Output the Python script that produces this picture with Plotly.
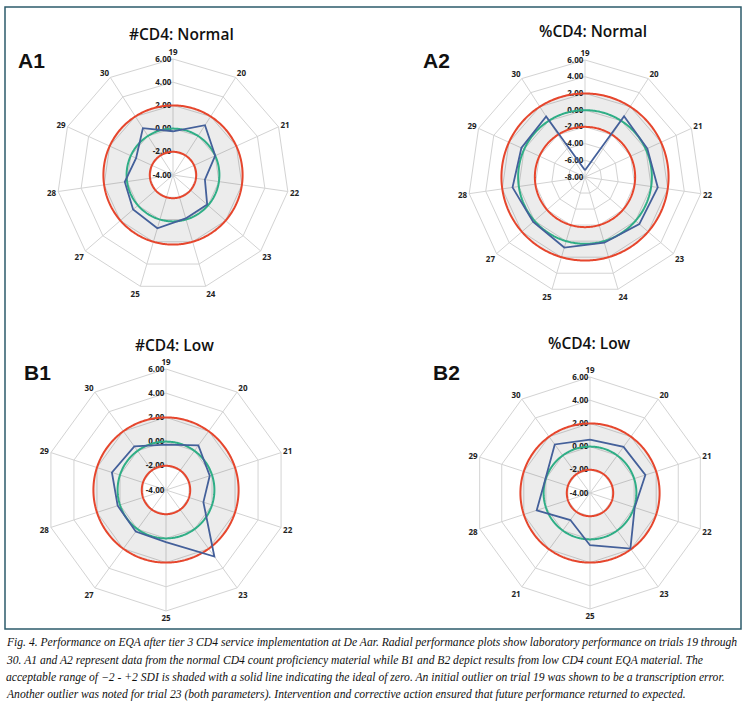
import numpy as np
import plotly.graph_objects as go

W, H = 747, 715

# ---------------- data ----------------
cats_A = ["19", "20", "21", "22", "23", "24", "25", "27", "28", "29", "30"]
cats_B = ["19", "20", "21", "22", "23", "25", "27", "28", "29", "30"]
labels_B2 = ["19", "20", "21", "22", "23", "25", "21", "28", "29", "30"]

a1_sdi = [-0.23, 1.10, 0.00, -1.22, -0.10, -0.10, 0.79, 0.55, 0.20, -0.50, 0.80]
a2_sdi = [-7.20, 0.65, 0.20, 0.80, 0.60, 0.20, 0.80, 0.20, 0.76, 0.37, 0.60]
b1_sdi = [-0.25, 0.55, -0.20, -0.75, 2.80, 0.30, 0.25, 0.20, 0.70, 0.45]
b2_sdi = [0.60, 0.92, 1.02, 0.05, 1.93, 0.50, -1.12, 0.83, 0.03, 1.17]

ticks_A1 = [-4, -2, 0, 2, 4, 6]
ticks_A2 = [-8, -6, -4, -2, 0, 2, 4, 6]
ticks_B = [-4, -2, 0, 2, 4, 6]

upper_limit = 2
lower_limit = -2
ideal = 0

titles = ["#CD4: Normal", "%CD4: Normal", "#CD4: Low", "%CD4: Low"]
panel_ids = ["A1", "A2", "B1", "B2"]

caption = [
    "Fig. 4. Performance on EQA after tier 3 CD4 service implementation at De Aar. Radial performance plots show laboratory performance on trials 19 through",
    "30. A1 and A2 represent data from the normal CD4 count proficiency material while B1 and B2 depict results from low CD4 count EQA material. The",
    "acceptable range of \u22122 - +2 SDI is shaded with a solid line indicating the ideal of zero. An initial outlier on trial 19 was shown to be a transcription error.",
    "Another outlier was noted for trial 23 (both parameters). Intervention and corrective action ensured that future performance returned to expected.",
]

# ---------------- styling / layout ----------------
GRID = "#d3d3d3"
RED = "#e6462d"
GREEN = "#2fae86"
BLUE = "#44609a"
SHADE = "rgba(0,0,0,0.075)"
TICKFONT = dict(family="Open Sans", size=8, color="#222222", weight="bold")

panels = [
    dict(cats=cats_A, text=cats_A, vals=a1_sdi, ticks=ticks_A1, cx=173, cy=175, R=116,
         title=(181, 34), label=(31, 60)),
    dict(cats=cats_A, text=cats_A, vals=a2_sdi, ticks=ticks_A2, cx=585, cy=177, R=117,
         title=(593, 31), label=(436, 60)),
    dict(cats=cats_B, text=cats_B, vals=b1_sdi, ticks=ticks_B, cx=166, cy=490, R=121,
         title=(174, 345), label=(37, 372)),
    dict(cats=cats_B, text=labels_B2, vals=b2_sdi, ticks=ticks_B, cx=590, cy=493, R=116,
         title=(589, 343), label=(446, 372)),
]

fig = go.Figure()
layout = {}
annotations = []
ang = list(np.linspace(0, 360, 361))


def key(k):
    return "polar" if k == 1 else f"polar{k}"


for i, p in enumerate(panels):
    kb, kr, kd = 3 * i + 1, 3 * i + 2, 3 * i + 3
    dom = dict(x=[(p["cx"] - p["R"]) / W, (p["cx"] + p["R"]) / W],
               y=[1 - (p["cy"] + p["R"]) / H, 1 - (p["cy"] - p["R"]) / H])
    rng = [p["ticks"][0], p["ticks"][-1]]

    # base grid layer
    layout[key(kb)] = dict(
        domain=dom, gridshape="linear", bgcolor="white",
        angularaxis=dict(type="category", categoryorder="array", categoryarray=p["cats"],
                         tickmode="array", tickvals=p["cats"], ticktext=p["text"],
                         rotation=90, direction="clockwise", showline=True,
                         linecolor=GRID, linewidth=1, gridcolor=GRID, ticks="",
                         tickfont=TICKFONT),
        radialaxis=dict(range=rng, tickmode="array", tickvals=p["ticks"],
                        ticktext=[f"{v:.2f}" for v in p["ticks"]],
                        angle=90, tickangle=90, side="counterclockwise",
                        showline=False, gridcolor=GRID, ticks="", tickfont=TICKFONT),
    )
    fig.add_trace(go.Scatterpolar(r=p["vals"], theta=p["cats"], mode="markers",
                                  marker=dict(size=1, opacity=0), hoverinfo="skip",
                                  showlegend=False, subplot=key(kb)))

    # reference ring layer
    layout[key(kr)] = dict(
        domain=dom, bgcolor="rgba(0,0,0,0)",
        angularaxis=dict(type="linear", rotation=90, direction="clockwise",
                         visible=False, showgrid=False),
        radialaxis=dict(range=rng, visible=False, showgrid=False),
    )
    fig.add_trace(go.Scatterpolar(
        r=[upper_limit] * len(ang) + [lower_limit] * len(ang), theta=ang + ang[::-1],
        mode="lines", fill="toself", fillcolor=SHADE, line=dict(width=0),
        hoverinfo="skip", showlegend=False, subplot=key(kr)))
    for val, col in [(upper_limit, RED), (lower_limit, RED), (ideal, GREEN)]:
        fig.add_trace(go.Scatterpolar(r=[val] * len(ang), theta=ang, mode="lines",
                                      line=dict(color=col, width=2),
                                      hoverinfo="skip", showlegend=False, subplot=key(kr)))

    # data layer
    layout[key(kd)] = dict(
        domain=dom, gridshape="linear", bgcolor="rgba(0,0,0,0)",
        angularaxis=dict(type="category", categoryorder="array", categoryarray=p["cats"],
                         rotation=90, direction="clockwise", showline=False,
                         showgrid=False, showticklabels=False, ticks=""),
        radialaxis=dict(range=rng, visible=False, showgrid=False),
    )
    fig.add_trace(go.Scatterpolar(
        r=p["vals"] + [p["vals"][0]], theta=p["cats"] + [p["cats"][0]],
        mode="lines+markers", line=dict(color=BLUE, width=1.8),
        marker=dict(color=BLUE, size=4), showlegend=False, subplot=key(kd)))

    annotations.append(dict(text=titles[i], x=p["title"][0] / W, y=1 - p["title"][1] / H,
                            xref="paper", yref="paper", showarrow=False,
                            xanchor="center", yanchor="middle",
                            font=dict(family="Open Sans", size=15.5, color="#111111", weight=600)))
    annotations.append(dict(text=panel_ids[i], x=p["label"][0] / W, y=1 - p["label"][1] / H,
                            xref="paper", yref="paper", showarrow=False,
                            xanchor="center", yanchor="middle",
                            font=dict(family="Liberation Sans", size=21, color="#111111", weight="bold")))

cap_y = [642, 660, 677, 694]
for line, y in zip(caption, cap_y):
    annotations.append(dict(text=line, x=4 / W, y=1 - y / H, xref="paper", yref="paper",
                            showarrow=False, xanchor="left", yanchor="middle",
                            font=dict(family="Liberation Serif", size=11.6, color="#111111",
                                      style="italic")))

layout.update(
    width=W, height=H, margin=dict(l=0, r=0, t=0, b=0),
    paper_bgcolor="white", plot_bgcolor="white", showlegend=False,
    annotations=annotations,
    shapes=[dict(type="rect", xref="paper", yref="paper",
                 x0=5 / W, x1=741 / W, y0=1 - 629 / H, y1=1 - 7 / H,
                 line=dict(color="#2d5b6b", width=1.5), fillcolor="rgba(0,0,0,0)", layer="below")],
)
fig.update_layout(**layout)
fig.write_html("out.html", config={"displayModeBar": False},
               post_script="document.body.style.margin='0px';")
